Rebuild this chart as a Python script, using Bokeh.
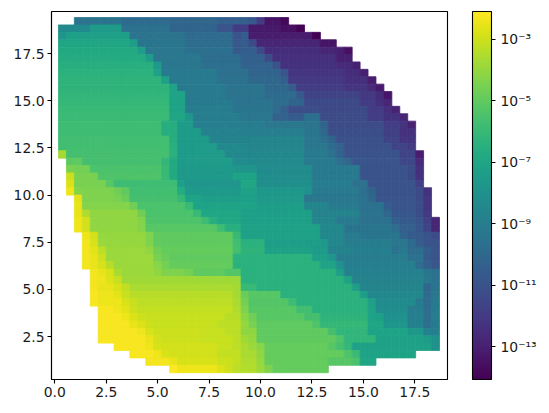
import numpy as np
from bokeh.embed import file_html
from bokeh.models import AllLabels, ColorBar, ColumnDataSource, CustomJSTickFormatter, FixedTicker, LogColorMapper, NumeralTickFormatter, Range1d
from bokeh.plotting import figure
from bokeh.resources import INLINE

# log10(value); each row (top to bottom): first column, then runs (end column, log10 value)
rows_top = [
 (2,[(8,-9.5),(14,-9.9),(20,-10.1),(24,-10.4),(25,-10.8),(26,-12.0),(28,-13.4),(29,-13.8)]),
 (0,[(4,-8.4),(8,-7.5),(14,-9.6),(20,-10.2),(22,-11),(24,-12),(28,-13.2),(30,-13.6),(31,-14)]),
 (0,[(1,-7.8),(9,-7.3),(16,-9.5),(22,-9.9),(23,-11),(24,-10.6),(32,-13.1),(33,-14)]),
 (0,[(9,-7.0),(10,-7.4),(16,-9.4),(22,-9.8),(23,-10.8),(24,-10.6),(25,-11.4),(33,-12.8),(35,-13.4)]),
 (0,[(10,-6.8),(11,-7.4),(16,-9.3),(22,-9.7),(23,-10.7),(25,-10.5),(26,-11.4),(33,-12.5),(35,-12.8),(36,-13.0),(37,-13.6)]),
 (0,[(11,-6.7),(12,-7.5),(18,-9.3),(23,-9.8),(26,-10.4),(27,-11.3),(35,-12.4),(37,-13.0)]),
 (0,[(12,-6.5),(13,-7.6),(18,-9.3),(23,-9.7),(27,-10.3),(28,-11),(35,-12.3),(37,-12.6),(38,-13)]),
 (0,[(12,-6.4),(13,-7.2),(20,-9.2),(24,-9.7),(28,-10.2),(29,-10.9),(36,-12.2),(38,-12.5),(39,-13)]),
 (0,[(13,-6.3),(14,-7.2),(20,-9.2),(24,-9.6),(28,-10.0),(29,-10.5),(36,-12.1),(39,-12.4),(40,-13.1)]),
 (0,[(14,-6.3),(15,-7.1),(21,-9.1),(26,-9.5),(29,-10.0),(30,-10.6),(36,-11.9),(39,-12.2),(40,-12.6),(41,-13.2)]),
 (0,[(14,-6.2),(16,-7.1),(21,-9.1),(26,-9.5),(30,-9.9),(31,-10.7),(38,-11.6),(40,-12.1),(41,-12.5),(42,-13.4)]),
 (0,[(14,-6.1),(16,-7.1),(22,-9.1),(27,-9.5),(29,-9.8),(31,-10.2),(38,-11.4),(40,-12),(41,-12.4),(42,-12.8)]),
 (0,[(14,-6.0),(16,-7.1),(22,-9.0),(27,-9.4),(28,-9.9),(29,-10.4),(33,-11.2),(39,-11.4),(41,-12),(42,-12.4),(43,-12.9)]),
 (0,[(14,-5.9),(16,-7.0),(17,-7.7),(23,-9.0),(27,-9.3),(29,-10.3),(31,-10.6),(33,-9.7),(39,-11.3),(41,-11.9),(43,-12.3),(44,-12.8)]),
 (0,[(13,-5.8),(15,-6.6),(17,-7.5),(23,-8.9),(26,-9.0),(31,-9.3),(33,-9.5),(34,-10.2),(41,-11.3),(43,-11.9),(44,-12.2),(45,-12.9)]),
 (0,[(13,-5.8),(15,-6.6),(18,-7.5),(23,-8.8),(31,-8.9),(33,-9.4),(34,-10.0),(41,-11.2),(43,-11.8),(45,-12.3)]),
 (0,[(14,-5.7),(15,-6.6),(19,-7.5),(24,-8.7),(31,-8.6),(33,-9.3),(34,-9.7),(35,-10.2),(41,-11.1),(43,-11.6),(45,-12.2)]),
 (0,[(14,-5.7),(15,-6.5),(20,-7.5),(24,-8.5),(31,-8.6),(34,-9.3),(35,-9.9),(36,-10.3),(42,-11.1),(44,-11.6),(45,-12.0)]),
 (0,[(1,-3.7),(14,-5.6),(15,-6.4),(21,-7.5),(31,-8.5),(34,-9.2),(35,-9.6),(36,-10.2),(43,-11),(45,-11.6),(46,-13.1)]),
 (1,[(2,-5.1),(3,-5.0),(13,-5.6),(14,-6.2),(15,-6.8),(22,-7.5),(24,-8.3),(31,-8.4),(35,-9.2),(36,-9.7),(37,-10.1),(43,-10.9),(45,-11.5),(46,-12.6)]),
 (1,[(2,-4.5),(4,-4.6),(13,-5.5),(14,-6),(15,-6.8),(22,-7.6),(25,-7.8),(32,-8.3),(38,-9.2),(44,-11),(45,-11.3),(46,-12.4)]),
 (1,[(2,-3.0),(5,-4.5),(13,-5.4),(14,-6),(15,-6.8),(22,-7.6),(25,-7.1),(32,-8.2),(38,-9.1),(44,-11),(45,-11.4),(46,-12.3)]),
 (1,[(2,-2.7),(6,-4.5),(7,-5.2),(15,-5.8),(16,-7.3),(23,-7.8),(25,-7.0),(32,-8.1),(37,-9),(39,-9.6),(45,-11),(46,-11.8)]),
 (1,[(2,-2.4),(3,-4.3),(7,-4.4),(8,-4.7),(9,-5),(15,-5.7),(16,-6.7),(23,-7.6),(25,-7.2),(31,-7.7),(32,-8),(38,-9.2),(39,-9.7),(40,-10.2),(45,-11),(46,-11.3),(47,-12.3)]),
]
rows_middle = [
 (2,[(3,-2.6),(7,-4.4),(8,-4.5),(9,-4.8),(15,-5.6),(16,-6.1),(18,-7.1),(23,-7.4),(25,-7.3),(31,-7.6),(38,-9.3),(39,-9.6),(40,-10),(45,-10.9),(46,-11.3),(47,-12.2)]),
 (2,[(3,-2.5),(9,-4.3),(10,-4.7),(16,-5.5),(17,-6),(25,-7.1),(31,-7.4),(34,-8.6),(38,-9.2),(41,-9.6),(42,-10.6),(45,-10.9),(46,-11.2),(47,-12.2)]),
 (2,[(3,-2.5),(4,-3.5),(10,-4.1),(11,-4.7),(17,-5.5),(18,-6),(23,-7.0),(32,-7.3),(38,-8.7),(41,-9.5),(42,-10.1),(45,-10.8),(46,-11.2),(47,-12.1)]),
 (2,[(3,-2.4),(4,-2.9),(10,-4.1),(11,-4.3),(18,-5.4),(19,-5.8),(20,-6.5),(23,-6.9),(32,-7.3),(35,-8.6),(38,-9.2),(42,-9.6),(43,-10.5),(45,-10.7),(46,-11),(47,-11.8),(48,-12.8)]),
 (2,[(3,-2.4),(4,-2.9),(10,-4.1),(11,-4.3),(20,-5.2),(21,-5.8),(23,-6.5),(33,-7.2),(36,-8.5),(42,-9.4),(43,-9.8),(45,-10.4),(46,-10.9),(47,-11.6),(48,-12.8)]),
 (3,[(4,-2.4),(5,-2.9),(11,-4.0),(12,-4.4),(22,-5.0),(23,-6),(33,-7.2),(36,-8.5),(38,-9.1),(43,-9.4),(44,-10.2),(46,-10.7),(47,-11),(48,-11.3)]),
 (3,[(4,-2.3),(5,-2.8),(6,-3.9),(11,-4.0),(12,-4.4),(22,-5.0),(23,-5.7),(26,-6.4),(33,-7.4),(34,-7.6),(36,-8.5),(42,-9),(44,-9.3),(45,-9.9),(46,-10.6),(48,-11)]),
 (3,[(4,-2.3),(5,-2.6),(6,-3.3),(11,-3.9),(12,-4.1),(13,-4.7),(22,-4.9),(23,-5.6),(26,-6.3),(32,-7.2),(34,-7.5),(37,-8.7),(42,-8.9),(43,-9.5),(44,-9.2),(46,-9.8),(47,-10.5),(48,-10.9)]),
 (3,[(4,-2.3),(5,-2.5),(6,-3.0),(12,-3.9),(13,-4.5),(14,-4.8),(22,-5),(32,-6.4),(34,-7.3),(35,-7.8),(44,-9),(46,-9.6),(47,-10.7),(48,-11)]),
 (3,[(4,-2.3),(5,-2.5),(6,-2.8),(7,-3.4),(12,-3.9),(13,-4.2),(14,-4.6),(22,-4.9),(33,-6.4),(35,-7.1),(36,-8),(45,-8.9),(46,-9.8),(47,-10.5),(48,-10.8)]),
 (4,[(5,-2.3),(6,-2.5),(7,-2.8),(8,-3.6),(12,-3.9),(13,-4.1),(16,-4.4),(17,-4.6),(21,-5),(23,-5.3),(35,-6.4),(36,-7.3),(46,-8.8),(47,-9.4),(48,-9.6)]),
 (4,[(5,-2.3),(6,-2.4),(7,-2.7),(8,-3.1),(23,-3.8),(36,-6.4),(37,-7.1),(46,-8.7),(47,-9.3),(48,-9.5)]),
]
rows_bottom = [
 (4,[(5,-2.3),(7,-2.5),(8,-2.8),(9,-3.2),(22,-3.6),(23,-3.7),(25,-6),(37,-6.4),(38,-7.3),(46,-8.6),(47,-10),(48,-9.4)]),
 (4,[(5,-2.2),(7,-2.4),(8,-2.6),(9,-3.1),(22,-3.4),(23,-3.7),(24,-4.8),(28,-5.2),(38,-6.4),(39,-7.4),(46,-8.5),(47,-9.9),(48,-9.3)]),
 (4,[(5,-2.2),(8,-2.4),(9,-2.8),(10,-3.1),(22,-3.3),(23,-3.6),(24,-4.6),(29,-5.3),(30,-5.8),(39,-6.4),(40,-7.2),(45,-8.3),(46,-9.2),(47,-9.8),(48,-9.2)]),
 (5,[(7,-2.2),(8,-2.4),(9,-2.6),(10,-3),(22,-3.2),(23,-3.5),(24,-4.4),(30,-5.2),(32,-5.7),(39,-6.4),(40,-7.1),(44,-8.2),(46,-9.0),(47,-9.8),(48,-9.1)]),
 (5,[(8,-2.2),(9,-2.4),(10,-2.7),(11,-3),(21,-3.1),(23,-3.4),(24,-4.2),(25,-4.7),(31,-5.2),(33,-5.6),(39,-6.3),(40,-7.1),(41,-7.3),(44,-8),(46,-8.9),(47,-9.7),(48,-9)]),
 (5,[(9,-2.2),(10,-2.5),(11,-2.7),(12,-3),(20,-3.1),(23,-3.3),(24,-4),(25,-4.5),(32,-5),(33,-5.4),(39,-6.1),(41,-7.0),(44,-7.8),(46,-8.8),(47,-9.7),(48,-9.1)]),
 (5,[(10,-2.2),(11,-2.4),(12,-2.8),(18,-3),(21,-3.1),(23,-3.3),(25,-4.1),(34,-5),(35,-5.6),(39,-6.2),(44,-7.1),(46,-7.7),(47,-8.8),(48,-8.9)]),
 (5,[(11,-2.2),(12,-2.5),(13,-2.9),(18,-3.0),(22,-3.1),(23,-3.3),(24,-3.8),(25,-4),(35,-5.0),(36,-5.4),(40,-6.2),(46,-7.2),(47,-7.5),(48,-7.9)]),
 (7,[(11,-2.2),(12,-2.4),(13,-2.8),(20,-2.9),(22,-3.1),(23,-3.3),(24,-3.6),(25,-3.9),(26,-4.2),(34,-4.9),(35,-5.2),(36,-5.6),(37,-6.1),(47,-7.2),(48,-7.9)]),
 (9,[(12,-2.2),(13,-2.4),(14,-2.8),(20,-2.9),(23,-3.2),(25,-3.6),(26,-4.1),(36,-4.9),(37,-5.4),(38,-5.9),(45,-7.1)]),
 (11,[(14,-2.3),(15,-2.5),(20,-2.8),(22,-3.0),(23,-3.2),(25,-3.5),(26,-4.0),(34,-4.9),(37,-5.2),(38,-5.5),(40,-7.0)]),
 (14,[(15,-2.1),(20,-2.4),(21,-2.7),(22,-3),(23,-3.3),(25,-3.45),(26,-3.9),(27,-4.4),(34,-4.9)]),
]
x_ticks = [0.0, 2.5, 5.0, 7.5, 10.0, 12.5, 15.0, 17.5]
y_ticks = [2.5, 5.0, 7.5, 10.0, 12.5, 15.0, 17.5]
bar_ticks = [1e-3, 1e-5, 1e-7, 1e-9, 1e-11, 1e-13]
bar_labels = ["10⁻³", "10⁻⁵", "10⁻⁷", "10⁻⁹", "10⁻¹¹", "10⁻¹³"]
value_low, value_high = 10**-14.07, 10**-2.09

x_edges = np.linspace(0.18, 18.70, 49)
y_edges = np.linspace(19.42, 0.58, 49)
left, right, top, bottom, val = [], [], [], [], []
for r, (start, runs) in enumerate(rows_top + rows_middle + rows_bottom):
    c = start
    for end, v in runs:
        for k in range(c, end):
            left.append(x_edges[k]); right.append(x_edges[k + 1])
            top.append(y_edges[r]); bottom.append(y_edges[r + 1])
            val.append(10.0**v)
        c = end
src = ColumnDataSource(dict(left=left, right=right, top=top, bottom=bottom, val=val))

mapper = LogColorMapper(palette="Viridis256", low=value_low, high=value_high)
p = figure(width=549, height=413, frame_width=396, frame_height=368,
           output_backend="svg", toolbar_location=None,
           x_range=Range1d(-0.16, 19.09), y_range=Range1d(0.22, 19.74),
           min_border_left=51, min_border_right=102, min_border_top=11, min_border_bottom=34)
p.grid.visible = False
p.background_fill_color = "white"
p.outline_line_color = "black"
p.outline_line_width = 1.1
p.quad(left="left", right="right", top="top", bottom="bottom", source=src,
       fill_color={"field": "val", "transform": mapper},
       line_color={"field": "val", "transform": mapper}, line_width=0.8)

for ax, ticks in ((p.xaxis[0], x_ticks), (p.yaxis[0], y_ticks)):
    ax.ticker = FixedTicker(ticks=ticks)
    ax.formatter = NumeralTickFormatter(format="0.0")
    ax.major_label_text_font = "DejaVu Sans"
    ax.major_label_text_font_size = "13.9px"
    ax.major_label_text_color = "#1a1a1a"
    ax.major_tick_out = 4
    ax.major_tick_in = 0
    ax.minor_tick_out = 0
    ax.minor_tick_in = 0
    ax.axis_line_color = "black"
    ax.axis_line_width = 1.1
    ax.major_tick_line_width = 1.1
    ax.major_label_standoff = 3
p.yaxis[0].major_label_orientation = "horizontal"

bar_format = CustomJSTickFormatter(args=dict(bar_vals=bar_ticks, bar_text=bar_labels), code="""
    for (let i = 0; i < bar_vals.length; i++) {
        if (Math.abs(Math.log10(tick) - Math.log10(bar_vals[i])) < 0.01) return bar_text[i];
    }
    return "";
""")
cb = ColorBar(color_mapper=mapper, ticker=FixedTicker(ticks=bar_ticks), formatter=bar_format,
              major_label_policy=AllLabels(),
              width=19, height=368, padding=0, margin=0, location=(25, 0),
              major_tick_in=0, major_tick_out=4, major_tick_line_color="black", major_tick_line_width=1.1,
              minor_tick_line_color=None, bar_line_color="black", bar_line_width=1.1,
              border_line_color=None, background_fill_color=None,
              major_label_text_font="DejaVu Sans", major_label_text_font_size="13.9px",
              major_label_text_color="#1a1a1a", label_standoff=5)
p.add_layout(cb, "right")

open("out.html", "w").write(file_html(p, INLINE))
